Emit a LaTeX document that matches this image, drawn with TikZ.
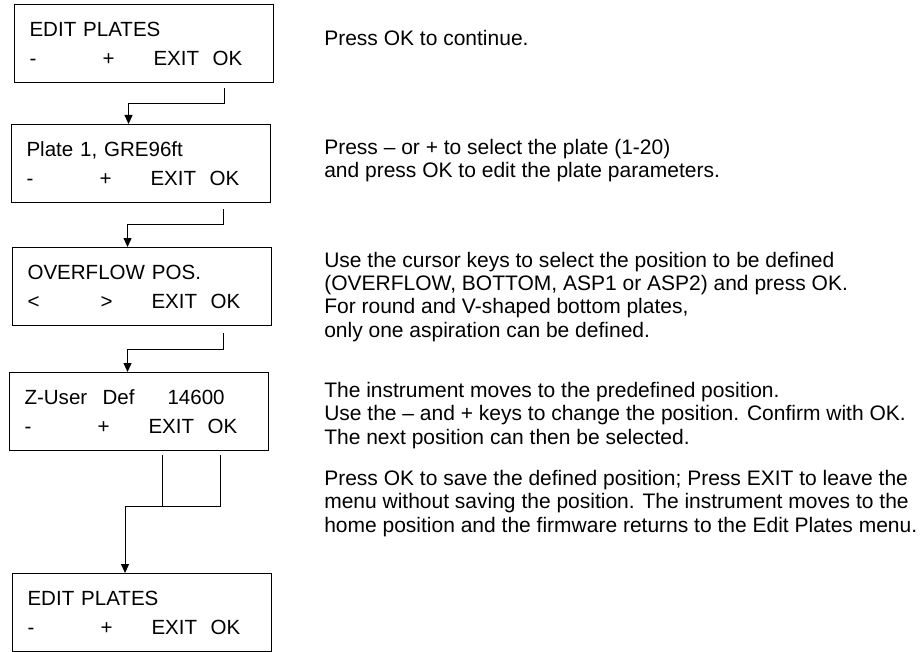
\documentclass[tikz,border=0pt]{standalone}
\usepackage{fontspec}
\setmainfont{Liberation Sans}
\usetikzlibrary{arrows.meta}

% one row of the keys under the display
\newcommand{\keyrow}[2]{\makebox[54.75pt][l]{#1}\makebox[38.25pt][l]{#2}\makebox[44.25pt][l]{EXIT}OK}

\tikzset{
  menu/.style={draw, line width=0.8pt, anchor=north west, minimum width=194.25pt,
    minimum height=58.5pt, text width=171.75pt, inner xsep=11.25pt, align=left,
    font=\fontsize{15.4}{21.8}\selectfont},
  note/.style={anchor=base west, align=left, inner sep=0pt,
    font=\fontsize{15.75}{17.5}\selectfont},
  line/.style={line width=0.8pt},
  flow/.style={line, -{Triangle[length=6.75pt,width=6pt]}},
}

\begin{document}
\begin{tikzpicture}[x=0.75pt,y=-0.75pt]
  \path[use as bounding box] (0,0) rectangle (923,652);

  % displays
  \node[menu] (b1) at (14,4)   {EDIT PLATES\\\keyrow{-}{+}};
  \node[menu] (b2) at (11,124) {Plate 1, GRE96ft\\\keyrow{-}{+}};
  \node[menu] (b3) at (12,247) {OVERFLOW POS.\\\keyrow{<}{>}};
  \node[menu] (b4) at (9,372)  {\makebox[58.5pt][l]{Z-User}\makebox[48.75pt][l]{Def}14600\\\keyrow{-}{+}};
  \node[menu] (b5) at (12,573) {EDIT PLATES\\\keyrow{-}{+}};

  % connections
  \draw[flow] ([shift={(80.5,5)}]b1.south) -- ++(0,15) -| ([shift={(-12.5,0)}]b2.north);
  \draw[flow] ([shift={(82.5,6)}]b2.south) -- ++(0,15) -| ([shift={(-14.5,0)}]b3.north);
  \draw[flow] ([shift={(81.5,7)}]b3.south) -- ++(0,16) -| ([shift={(-11.5,0)}]b4.north);
  \draw[line] ([shift={(23.5,4)}]b4.south) -- ++(0,51);
  \draw[flow] ([shift={(81.5,4)}]b4.south) -- ++(0,51) -| ([shift={(-17,0)}]b5.north);

  % explanations (placed by the baseline of their last line)
  \node[note] (n1) at (324,46)  {Press OK to continue.};
  \node[note] (n2) at (324,178) {Press – or + to select the plate (1-20)\\
    and press OK to edit the plate parameters.};
  \node[note] (n3) at (324,337) {Use the cursor keys to select the position to be defined\\
    (OVERFLOW, BOTTOM, ASP1 or ASP2) and press OK.\\
    For round and V-shaped bottom plates,\\
    only one aspiration can be defined.};
  \node[note] (n4) at (324,444) {The instrument moves to the predefined position.\\
    Use the – and + keys to change the position. Confirm with OK.\\
    The next position can then be selected.};
  \node[note] (n5) at (324,532) {Press OK to save the defined position; Press EXIT to leave the\\
    menu without saving the position. The instrument moves to the\\
    home position and the firmware returns to the Edit Plates menu.};
\end{tikzpicture}
\end{document}
